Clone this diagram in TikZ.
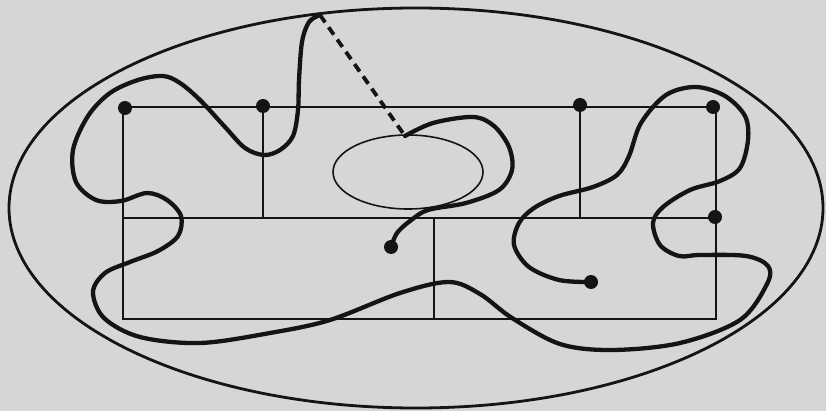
\documentclass[tikz,border=0pt]{standalone}
\definecolor{paper}{RGB}{214,214,214}
\definecolor{ink}{RGB}{20,20,20}
\tikzset{
  thin line/.style={draw=ink, line width=1.7pt},
  wire/.style={draw=ink, line width=4.3pt, line cap=round, line join=round},
  dot/.style={circle, fill=ink, inner sep=0pt, minimum size=14pt},
  dashwire/.style={draw=ink, line width=3.8pt, dash pattern=on 9pt off 6pt}
}
\begin{document}
\begin{tikzpicture}[x=1pt,y=-1pt]
\useasboundingbox[fill=paper] (0,0) rectangle (826,411);
% outer ellipse
\draw[draw=ink, line width=2.8pt] (416,208) ellipse [x radius=407, y radius=200];
% inner ellipse
\draw[draw=ink, line width=1.6pt] (408,172) ellipse [x radius=75, y radius=37];
% frame coordinates
\coordinate (TL) at (123,107);
\coordinate (TR) at (716,107);
\coordinate (ML) at (123,218);
\coordinate (MR) at (716,218);
\coordinate (BL) at (123,319);
\coordinate (BR) at (716,319);
\coordinate (V1t) at (263,107);
\coordinate (V1b) at (263,218);
\coordinate (V2t) at (580,107);
\coordinate (V2b) at (580,218);
\coordinate (V3t) at (434,218);
\coordinate (V3b) at (434,319);
\draw[thin line] (TL) -- (TR) -- (BR) -- (BL) -- cycle;
\draw[thin line] (ML) -- (MR);
\draw[thin line] (V1t) -- (V1b);
\draw[thin line] (V2t) -- (V2b);
\draw[thin line] (V3t) -- (V3b);
% dots
\node[dot] (d1) at (125,108) {};
\node[dot] (d2) at (263,106) {};
\node[dot] (d3) at (580,105) {};
\node[dot] (d4) at (713,107) {};
\node[dot] (d5) at (715,217) {};
\node[dot] (d6) at (391,247) {};
\node[dot] (d7) at (591,282) {};
\coordinate (apex) at (320,15);
\coordinate (start2) at (405,136);
% long wire
\draw[wire] plot[smooth, tension=0.55] coordinates {
 (320,15) (309,22) (302,42) (299,80) (298,110) (293,136) (280,150) (264,155) (245,148)
 (225,127) (200,100) (180,83) (163,76) (138,80) (110,93) (88,116) (73,150) (76,182)
 (96,200) (121,201) (147,193) (167,200) (181,216) (178,236) (158,251) (130,262)
 (105,273) (93,292) (104,318) (140,337) (200,343) (270,333) (330,320) (400,293)
 (449,282) (480,294) (512,318) (560,344) (612,350) (680,343) (740,320) (767,284)
 (768,266) (746,256) (700,255) (679,256) (660,245) (653,223) (663,207) (690,190)
 (720,181) (740,168) (748,140) (745,116) (725,96) (696,87) (666,95) (641,123)
 (629,156) (617,175) (593,187) (559,196) (534,208) (519,223) (514,245) (529,267)
 (559,280) (591,282)};
% short wire
\draw[wire] plot[smooth, tension=0.55] coordinates {
 (405,136) (433,123) (473,117) (494,126) (509,147) (512,170) (499,190) (466,203)
 (428,210) (410,221) (397,233) (391,247)};
% dashed link
\draw[dashwire] (apex) -- (start2);
\end{tikzpicture}
\end{document}
